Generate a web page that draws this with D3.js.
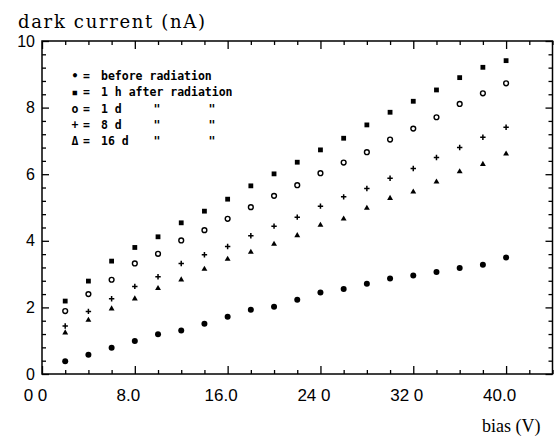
<!DOCTYPE html>
<html>
<head>
<meta charset="utf-8">
<script src="https://cdn.jsdelivr.net/npm/d3@7"></script>
<style>
  html, body { margin: 0; padding: 0; background: #fff; }
  svg { display: block; }
</style>
</head>
<body>
<script>
// Dark current versus bias voltage, measured before and at several times after irradiation.
const bias = [2, 4, 6, 8, 10, 12, 14, 16, 18, 20, 22, 24, 26, 28, 30, 32, 34, 36, 38, 40];

const beforeRad = [0.38, 0.58, 0.79, 0.99, 1.19, 1.31, 1.51, 1.72, 1.93, 2.02,
                   2.23, 2.45, 2.55, 2.71, 2.87, 2.96, 3.06, 3.18, 3.28, 3.50];
const after1h   = [2.19, 2.79, 3.39, 3.80, 4.12, 4.54, 4.89, 5.25, 5.65, 6.01,
                   6.36, 6.73, 7.08, 7.48, 7.86, 8.19, 8.53, 8.90, 9.21, 9.41];
const after1d   = [1.89, 2.40, 2.83, 3.32, 3.61, 4.01, 4.32, 4.66, 5.01, 5.35,
                   5.67, 6.03, 6.35, 6.66, 7.04, 7.37, 7.71, 8.11, 8.43, 8.73];
const after8d   = [1.44, 1.88, 2.26, 2.63, 2.92, 3.32, 3.58, 3.83, 4.15, 4.44,
                   4.71, 5.04, 5.32, 5.57, 5.88, 6.17, 6.50, 6.80, 7.11, 7.41];
const after16d  = [1.24, 1.62, 1.96, 2.26, 2.57, 2.83, 3.15, 3.45, 3.66, 3.90,
                   4.16, 4.47, 4.66, 4.98, 5.28, 5.47, 5.77, 6.08, 6.30, 6.61];

const xMajor = [0, 8, 16, 24, 32, 40];
const xTickLabels = ["0 0", "8.0", "16.0", "24 0", "32 0", "40.0"];
const yMajor = [0, 2, 4, 6, 8, 10];
const yTickLabels = ["0", "2", "4", "6", "8", "10"];

const legendSymbols = ["•", "▪", "o", "+", "Δ"];
const legendLabels = ["before radiation", "1 h after radiation", "1 d", "8 d", "16 d"];
const dittoRows = [2, 3, 4];

const title = "dark current (nA)";
const xTitle = "bias (V)";

const W = 556, H = 436;
const svg = d3.select("body").append("svg").attr("width", W).attr("height", H);

const x = d3.scaleLinear().domain([0, 44]).range([42, 552.5]);
const y = d3.scaleLinear().domain([0, 10]).range([374, 41]);

const xMinor = d3.range(0, 44.01, 2).filter(v => !xMajor.includes(v));
const yMinor = d3.range(0, 10.01, 0.4).map(v => +v.toFixed(1)).filter(v => !yMajor.includes(v));

const sansFont = "'Liberation Sans', Arial, sans-serif";
const serifFont = "'DejaVu Serif', serif";
const monoFont = "'DejaVu Sans Mono', monospace";

function styleAxis(g) {
  g.select(".domain").remove();
  g.selectAll(".tick line").attr("stroke", "#000").attr("stroke-width", 1.3);
}

// bottom axis: major ticks with labels, minor ticks without
svg.append("g").attr("transform", `translate(0,${y(0)})`)
  .call(d3.axisBottom(x).tickValues(xMajor).tickSize(-8).tickPadding(15)
    .tickFormat((d, i) => xTickLabels[i]))
  .call(styleAxis)
  .call(g => g.selectAll("text").attr("dx", -7).attr("fill", "#000")
    .style("font-family", sansFont).style("font-size", "17px"));
svg.append("g").attr("transform", `translate(0,${y(0)})`)
  .call(d3.axisBottom(x).tickValues(xMinor).tickSize(-4).tickFormat(""))
  .call(styleAxis);

// top axis (mirrored ticks)
svg.append("g").attr("transform", `translate(0,${y(10)})`)
  .call(d3.axisTop(x).tickValues(xMajor).tickSize(-8).tickFormat(""))
  .call(styleAxis);
svg.append("g").attr("transform", `translate(0,${y(10)})`)
  .call(d3.axisTop(x).tickValues(xMinor).tickSize(-4).tickFormat(""))
  .call(styleAxis);

// left axis
svg.append("g").attr("transform", `translate(${x(0)},0)`)
  .call(d3.axisLeft(y).tickValues(yMajor).tickSize(-7).tickPadding(7)
    .tickFormat((d, i) => yTickLabels[i]))
  .call(styleAxis)
  .call(g => g.selectAll("text").attr("fill", "#000")
    .style("font-family", sansFont).style("font-size", "16px"));
svg.append("g").attr("transform", `translate(${x(0)},0)`)
  .call(d3.axisLeft(y).tickValues(yMinor).tickSize(-4).tickFormat(""))
  .call(styleAxis);

// right axis (mirrored ticks)
svg.append("g").attr("transform", `translate(${x(44)},0)`)
  .call(d3.axisRight(y).tickValues(yMajor).tickSize(-7).tickFormat(""))
  .call(styleAxis);
svg.append("g").attr("transform", `translate(${x(44)},0)`)
  .call(d3.axisRight(y).tickValues(yMinor).tickSize(-4).tickFormat(""))
  .call(styleAxis);

// frame
svg.append("rect")
  .attr("x", x(0)).attr("y", y(10))
  .attr("width", x(44) - x(0)).attr("height", y(0) - y(10))
  .attr("fill", "none").attr("stroke", "#000").attr("stroke-width", 1.5);

// markers
const series = [
  { values: beforeRad, kind: "dot" },
  { values: after1h, kind: "square" },
  { values: after1d, kind: "ring" },
  { values: after8d, kind: "plus" },
  { values: after16d, kind: "triangle" }
];

const marks = svg.append("g");
series.forEach(s => {
  const pts = bias.map((b, i) => [x(b), y(s.values[i])]);
  const g = marks.append("g");
  if (s.kind === "dot") {
    g.selectAll("circle").data(pts).join("circle")
      .attr("cx", d => d[0]).attr("cy", d => d[1]).attr("r", 3).attr("fill", "#000");
  } else if (s.kind === "square") {
    g.selectAll("rect").data(pts).join("rect")
      .attr("x", d => d[0] - 2.4).attr("y", d => d[1] - 2.4)
      .attr("width", 4.8).attr("height", 4.8).attr("fill", "#000");
  } else if (s.kind === "ring") {
    g.selectAll("circle").data(pts).join("circle")
      .attr("cx", d => d[0]).attr("cy", d => d[1]).attr("r", 2.4)
      .attr("fill", "#fff").attr("stroke", "#000").attr("stroke-width", 1.4);
  } else if (s.kind === "plus") {
    g.selectAll("path").data(pts).join("path")
      .attr("d", d => `M${d[0] - 2.7},${d[1]}H${d[0] + 2.7}M${d[0]},${d[1] - 2.7}V${d[1] + 2.7}`)
      .attr("stroke", "#000").attr("stroke-width", 1.5).attr("fill", "none");
  } else {
    const tri = d3.symbol().type(d3.symbolTriangle).size(15);
    g.selectAll("path").data(pts).join("path")
      .attr("transform", d => `translate(${d[0]},${d[1]})`)
      .attr("d", tri).attr("fill", "#000");
  }
});

// legend
const legend = svg.append("g")
  .style("font-family", monoFont).style("font-weight", "bold").style("font-size", "11.5px")
  .attr("fill", "#000");
legendLabels.forEach((lab, i) => {
  const by = 80 + i * 16.3;
  legend.append("text").attr("x", 75).attr("y", by).attr("text-anchor", "middle").text(legendSymbols[i]);
  legend.append("text").attr("x", 86.5).attr("y", by).attr("text-anchor", "middle").text("=");
  legend.append("text").attr("x", 101).attr("y", by).text(lab);
  if (dittoRows.includes(i)) {
    legend.append("text").attr("x", 157).attr("y", by).attr("text-anchor", "middle").text("\"");
    legend.append("text").attr("x", 212).attr("y", by).attr("text-anchor", "middle").text("\"");
  }
});

// axis titles
svg.append("text").attr("x", 18).attr("y", 27.5)
  .attr("textLength", 187).attr("lengthAdjust", "spacing")
  .style("font-family", serifFont).style("font-size", "18px").attr("fill", "#000")
  .text(title);
svg.append("text").attr("x", 482).attr("y", 432)
  .style("font-family", "'Liberation Serif', serif").style("font-size", "18px").attr("fill", "#000")
  .text(xTitle);
</script>
</body>
</html>
